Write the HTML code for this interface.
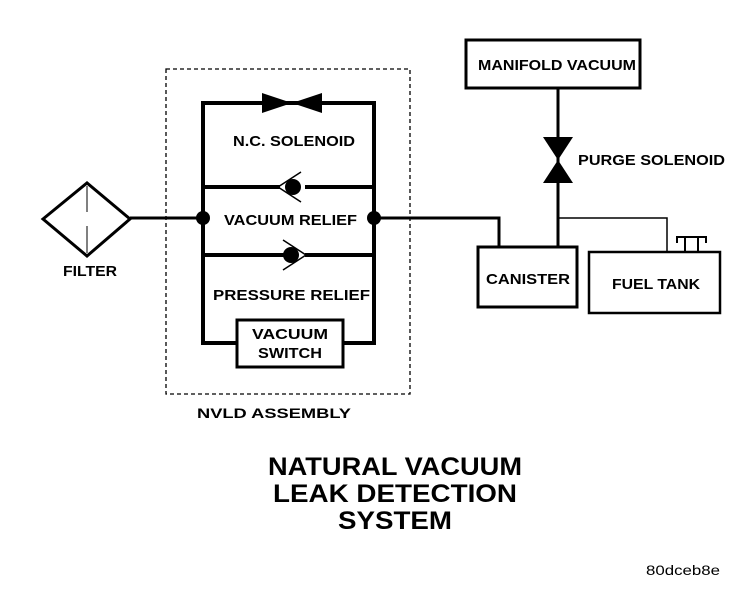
<!DOCTYPE html>
<html><head><style>
body{margin:0;background:#fff;}
svg text{font-family:"Liberation Sans",sans-serif;font-weight:bold;fill:#000;}
</style></head><body>
<svg width="752" height="586" viewBox="0 0 752 586" xmlns="http://www.w3.org/2000/svg">
<rect x="166" y="69" width="244" height="325" fill="none" stroke="#000" stroke-width="1.3" stroke-dasharray="4,3"/>
<!-- filter -->
<polygon points="43,219 87,183 130,219 87,256" fill="none" stroke="#000" stroke-width="3"/>
<line x1="87" y1="186" x2="87" y2="212" stroke="#000" stroke-width="1"/>
<line x1="87" y1="226" x2="87" y2="253" stroke="#000" stroke-width="1"/>
<line x1="130" y1="218" x2="203" y2="218" stroke="#000" stroke-width="3"/>
<text x="63" y="276" font-size="15" textLength="54" lengthAdjust="spacingAndGlyphs">FILTER</text>
<!-- NVLD frame -->
<g stroke="#000" stroke-width="4" fill="none">
<line x1="203" y1="103" x2="203" y2="345"/>
<line x1="374" y1="103" x2="374" y2="345"/>
<line x1="201" y1="103" x2="376" y2="103"/>
<line x1="201" y1="187" x2="280" y2="187"/>
<line x1="305" y1="187" x2="376" y2="187"/>
<line x1="201" y1="255" x2="285" y2="255"/>
<line x1="305" y1="255" x2="376" y2="255"/>
<line x1="201" y1="343" x2="237" y2="343"/>
<line x1="343" y1="343" x2="376" y2="343"/>
</g>
<polygon points="262,93 292,103 262,113" fill="#000"/>
<polygon points="322,93 292,103 322,113" fill="#000"/>
<circle cx="293" cy="187" r="8" fill="#000"/>
<polyline points="301,172 278,187 301,202" fill="none" stroke="#000" stroke-width="1.5"/>
<circle cx="291" cy="255" r="8" fill="#000"/>
<polyline points="283,240 306,255 283,270" fill="none" stroke="#000" stroke-width="1.5"/>
<circle cx="203" cy="218" r="7" fill="#000"/>
<circle cx="374" cy="218" r="7" fill="#000"/>
<rect x="237" y="320" width="106" height="47" fill="#fff" stroke="#000" stroke-width="3"/>
<text x="233" y="146" font-size="15" textLength="122" lengthAdjust="spacingAndGlyphs">N.C. SOLENOID</text>
<text x="224" y="225" font-size="15" textLength="133" lengthAdjust="spacingAndGlyphs">VACUUM RELIEF</text>
<text x="213" y="300" font-size="15" textLength="157" lengthAdjust="spacingAndGlyphs">PRESSURE RELIEF</text>
<text x="252" y="339" font-size="15" textLength="76" lengthAdjust="spacingAndGlyphs">VACUUM</text>
<text x="258" y="358" font-size="15" textLength="64" lengthAdjust="spacingAndGlyphs">SWITCH</text>
<text x="197" y="418" font-size="14" textLength="154" lengthAdjust="spacingAndGlyphs">NVLD ASSEMBLY</text>
<!-- right side -->
<polyline points="374,218 499,218 499,247" fill="none" stroke="#000" stroke-width="3"/>
<line x1="558" y1="88" x2="558" y2="247" stroke="#000" stroke-width="3"/>
<polyline points="558,218 667,218 667,252" fill="none" stroke="#000" stroke-width="1.5"/>
<polygon points="543,137 573,137 558,160" fill="#000"/>
<polygon points="543,183 573,183 558,160" fill="#000"/>
<rect x="466" y="40" width="174" height="48" fill="#fff" stroke="#000" stroke-width="3"/>
<text x="478" y="70" font-size="15" textLength="158" lengthAdjust="spacingAndGlyphs">MANIFOLD VACUUM</text>
<text x="578" y="165" font-size="15" textLength="147" lengthAdjust="spacingAndGlyphs">PURGE SOLENOID</text>
<rect x="478" y="247" width="99" height="60" fill="#fff" stroke="#000" stroke-width="3"/>
<text x="486" y="284" font-size="15" textLength="84" lengthAdjust="spacingAndGlyphs">CANISTER</text>
<rect x="589" y="252" width="131" height="61" fill="#fff" stroke="#000" stroke-width="2.5"/>
<text x="612" y="289" font-size="15" textLength="88" lengthAdjust="spacingAndGlyphs">FUEL TANK</text>
<g stroke="#000" stroke-width="2">
<line x1="676" y1="237" x2="707" y2="237"/>
<line x1="677" y1="237" x2="677" y2="243"/>
<line x1="685" y1="237" x2="685" y2="252"/>
<line x1="698" y1="237" x2="698" y2="252"/>
<line x1="706" y1="237" x2="706" y2="243"/>
</g>
<text x="268" y="475" font-size="25" textLength="254" lengthAdjust="spacingAndGlyphs">NATURAL VACUUM</text>
<text x="273" y="502" font-size="25" textLength="244" lengthAdjust="spacingAndGlyphs">LEAK DETECTION</text>
<text x="338" y="529" font-size="25" textLength="114" lengthAdjust="spacingAndGlyphs">SYSTEM</text>
<text x="646" y="575" font-size="14" style="font-weight:normal" textLength="74" lengthAdjust="spacingAndGlyphs">80dceb8e</text>
</svg>
</body></html>
